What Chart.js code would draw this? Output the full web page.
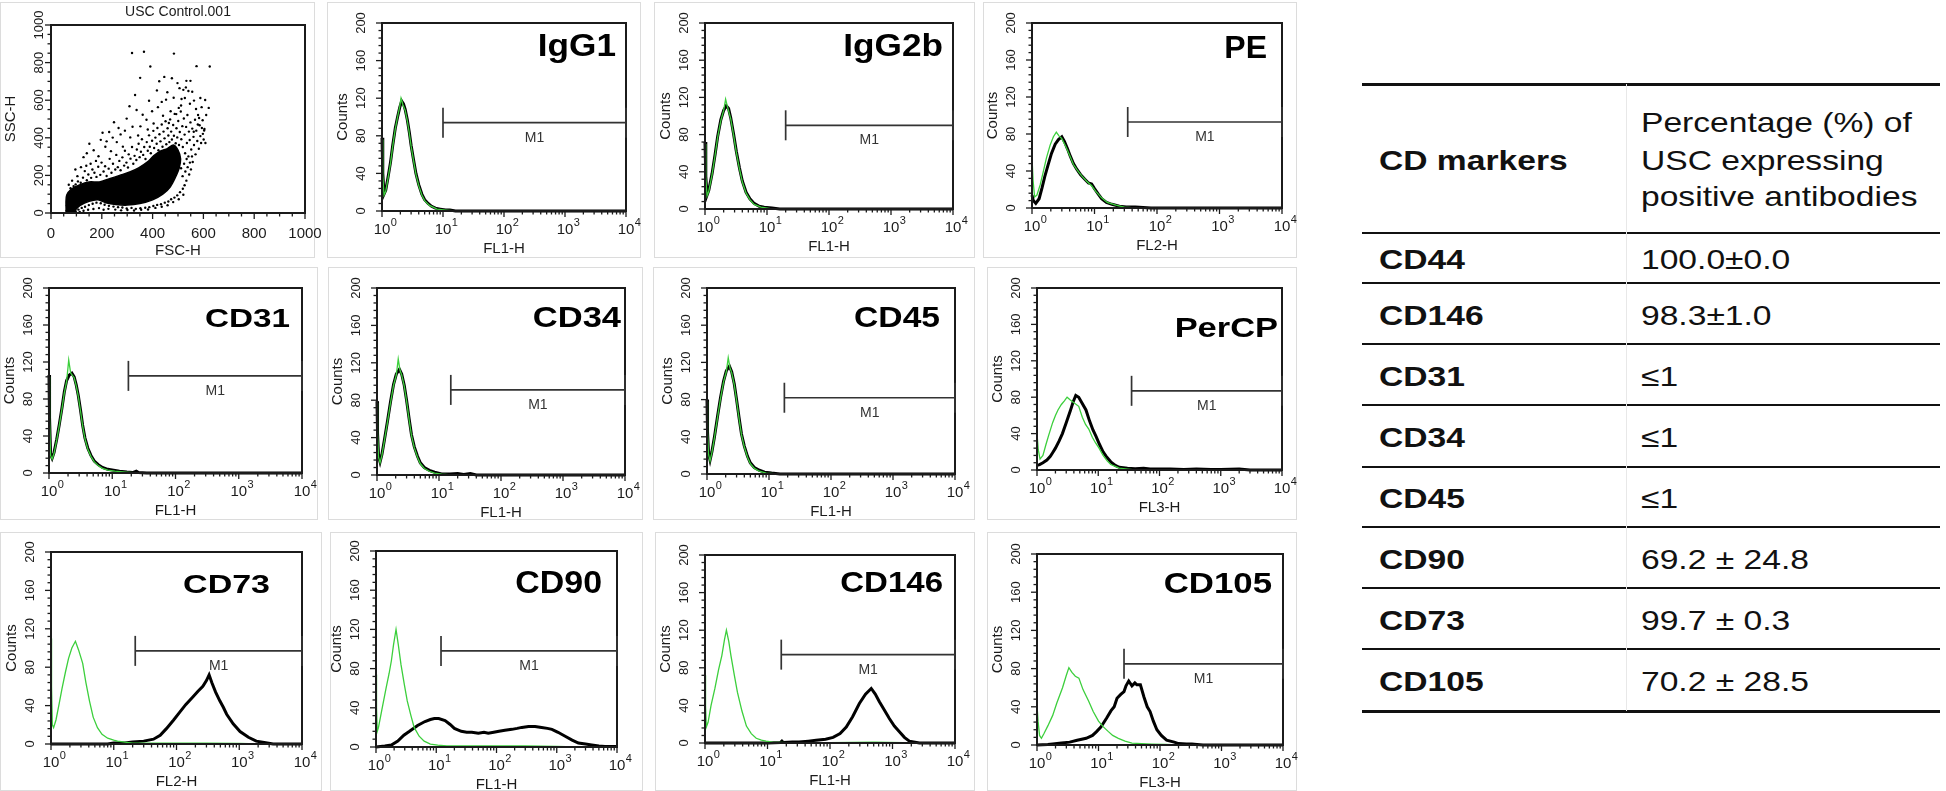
<!DOCTYPE html>
<html>
<head>
<meta charset="utf-8">
<script src="https://cdn.jsdelivr.net/npm/chart.js@4.4.0/dist/chart.umd.min.js"></script>
<style>
  body { margin: 0; width: 1946px; height: 791px; background: #fff; position: relative; overflow: hidden;
         font-family: "Liberation Sans", Arial, sans-serif; color: #111; }
  .frame { position: absolute; border: 1px solid #dcdcdc; box-sizing: border-box; }
  canvas { position: absolute; }
  .rule { position: absolute; background: #111; }
  .cell { position: absolute; white-space: nowrap; height: 40px; line-height: 40px; font-size: 28px;
          transform: scaleX(1.2); transform-origin: 0 50%; }
</style>
</head>
<body>
<script>
// ---- axis ticks ----
const logMajor = [1, 10, 100, 1000, 10000];
const logMinor = [2, 3, 4, 5, 6, 7, 8, 9, 20, 30, 40, 50, 60, 70, 80, 90, 200, 300, 400, 500, 600, 700, 800, 900,
  2000, 3000, 4000, 5000, 6000, 7000, 8000, 9000];
const countMajor = [0, 40, 80, 120, 160, 200];
const countMinor = [8, 16, 24, 32, 48, 56, 64, 72, 88, 96, 104, 112, 128, 136, 144, 152, 168, 176, 184, 192];
const linMajor = [0, 200, 400, 600, 800, 1000];
const linMinor = [50, 100, 150, 250, 300, 350, 450, 500, 550, 650, 700, 750, 850, 900, 950];

// ---- scatter (FSC-H vs SSC-H) ----
const scatterCore = [[60, 0], [59, 60], [62, 95], [78, 125], [110, 148], [150, 165], [190, 165], [230, 182], [270, 200],
  [310, 218], [345, 240], [380, 272], [405, 305], [432, 330], [458, 342], [482, 362], [500, 335], [510, 290], [505, 240],
  [490, 190], [470, 140], [440, 100], [400, 70], [350, 50], [300, 42], [255, 45], [215, 55], [185, 70], [150, 62],
  [115, 40], [95, 15], [88, 0]];
const scatterEvents = [
  [70, 150], [83, 172], [91, 133], [104, 196], [117, 161], [126, 188], [133, 223], [141, 174], [147, 205], [158, 187],
  [163, 231], [171, 214], [179, 192], [186, 246], [194, 203], [199, 268], [207, 221], [213, 249], [219, 197], [227, 236],
  [231, 288], [238, 214], [244, 262], [253, 231], [257, 309], [263, 244], [269, 277], [274, 227], [281, 296], [288, 252],
  [291, 331], [297, 268], [303, 242], [306, 312], [313, 289], [319, 351], [324, 262], [329, 304], [336, 282], [338, 338],
  [345, 368], [349, 297], [354, 326], [358, 392], [363, 309], [367, 351], [372, 287], [377, 377], [381, 331], [386, 413],
  [389, 352], [393, 318], [398, 384], [403, 437], [406, 346], [411, 401], [416, 368], [419, 452], [423, 334], [427, 419],
  [431, 381], [436, 471], [439, 352], [443, 433], [447, 397], [451, 488], [454, 366], [459, 451], [462, 412], [466, 377],
  [469, 498], [473, 433], [476, 391], [481, 468], [484, 411], [487, 527], [491, 371], [494, 451], [497, 402], [501, 489],
  [504, 362], [507, 431], [511, 540], [513, 392], [517, 462], [519, 351], [523, 503], [526, 417], [528, 318], [532, 458],
  [535, 372], [537, 521], [541, 301], [543, 433], [546, 388], [549, 482], [552, 338], [556, 449], [558, 271], [561, 405],
  [563, 362], [567, 496], [569, 312], [572, 438], [576, 383], [579, 521], [582, 342], [585, 467], [588, 409], [591, 372],
  [594, 452], [598, 421], [601, 391], [604, 447], [608, 372],
  [512, 238], [518, 196], [524, 262], [529, 221], [534, 287], [538, 244], [544, 205], [547, 268], [551, 232], [555, 301],
  [533, 172], [526, 148], [519, 129], [508, 111], [497, 94], [486, 82], [473, 73], [462, 61], [448, 55], [433, 47],
  [418, 43], [403, 37], [387, 31], [371, 28], [352, 25], [334, 22], [317, 27], [298, 24], [281, 29], [264, 31], [246, 34],
  [228, 38], [211, 44], [196, 52], [179, 55], [164, 49], [149, 42], [134, 33], [121, 27], [108, 18], [97, 9], [113, 6],
  [128, 12], [146, 17], [167, 21], [189, 26], [207, 17], [226, 22], [253, 18], [276, 14], [301, 16], [327, 13], [355, 17],
  [382, 19], [411, 27], [436, 33], [459, 41], [481, 58], [503, 73], [521, 97],
  [61, 12], [63, 41], [65, 27], [67, 66], [69, 88], [71, 49], [73, 104], [74, 21], [77, 132], [79, 77], [84, 118],
  [86, 94], [89, 143], [93, 61], [97, 152], [101, 108], [106, 168], [112, 131],
  [96, 231], [128, 297], [151, 368], [168, 334], [187, 302], [203, 427], [219, 381], [236, 329], [248, 483], [259, 377],
  [274, 418], [283, 353], [298, 502], [321, 459], [331, 628], [343, 412], [351, 719], [361, 523], [366, 858], [381, 444],
  [386, 597], [391, 779], [404, 476], [421, 563], [426, 701], [441, 517], [446, 724], [453, 603], [464, 479], [471, 541],
  [476, 717], [483, 613], [484, 848], [493, 526], [503, 559], [506, 664], [514, 606], [521, 655], [531, 668], [541, 649],
  [549, 703], [563, 598], [571, 553], [573, 781], [583, 505], [593, 563], [603, 439], [621, 559], [625, 779], [319, 851],
  [533, 703], [562, 432], [578, 471], [597, 493], [611, 521], [588, 612], [547, 581], [527, 612], [512, 572], [458, 642],
  [436, 591], [398, 541], [376, 496], [352, 461], [337, 548], [312, 402], [291, 438], [266, 452], [243, 401], [214, 352],
  [196, 389], [177, 277], [156, 262], [139, 251], [118, 244], [141, 318], [229, 431], [309, 568], [417, 652], [498, 691],
  [556, 645], [607, 601]];

// ---- histograms: [channel, counts] ----
const igg1Sample = [[1, 78], [1.03, 40], [1.08, 18], [1.15, 22], [1.25, 35], [1.38, 52], [1.5, 70], [1.65, 88], [1.8, 100],
  [1.95, 110], [2.1, 117], [2.25, 114], [2.4, 108], [2.6, 97], [2.8, 84], [3, 70], [3.3, 54], [3.6, 40], [4, 28], [4.5, 18],
  [5, 12], [5.7, 8], [6.5, 5], [7.5, 3], [9, 2], [11, 1], [13, 1], [16, 0], [10000, 0]];
const igg1Control = [[1, 76], [1.03, 38], [1.08, 17], [1.15, 21], [1.25, 34], [1.38, 51], [1.5, 69], [1.65, 87], [1.8, 100],
  [1.95, 111], [2.05, 120], [2.2, 113], [2.4, 107], [2.6, 96], [2.8, 83], [3, 69], [3.3, 53], [3.6, 39], [4, 27], [4.5, 17],
  [5, 11], [6, 6], [8, 2], [11, 1], [16, 0], [10000, 0]];
const igg2bSample = [[1, 72], [1.03, 35], [1.08, 15], [1.15, 20], [1.3, 38], [1.45, 58], [1.6, 78], [1.8, 96], [2, 106],
  [2.2, 111], [2.4, 108], [2.6, 98], [2.9, 80], [3.2, 62], [3.6, 44], [4, 30], [4.6, 18], [5.3, 11], [6.2, 6], [7.5, 3],
  [9, 2], [12, 1], [16, 0], [10000, 0]];
const igg2bControl = [[1, 70], [1.03, 34], [1.08, 14], [1.15, 19], [1.3, 37], [1.45, 57], [1.6, 77], [1.8, 95], [2, 106],
  [2.15, 118], [2.3, 110], [2.6, 97], [2.9, 79], [3.2, 61], [3.6, 43], [4, 29], [4.6, 17], [5.3, 10], [6.2, 5], [8, 2],
  [12, 0], [10000, 0]];
const peSample = [[1, 14], [1.05, 8], [1.15, 5], [1.3, 10], [1.45, 22], [1.6, 34], [1.8, 46], [2.05, 59], [2.35, 69],
  [2.65, 74], [3, 77], [3.3, 72], [3.7, 64], [4.1, 56], [4.6, 48], [5.2, 42], [6, 36], [7, 31], [8, 27], [9, 26], [10, 21],
  [11.5, 15], [13, 10], [15.5, 6], [19, 4], [25, 2], [32, 1], [45, 1], [60, 0.5], [80, 0], [10000, 0]];
const peControl = [[1, 55], [1.04, 30], [1.1, 12], [1.2, 14], [1.35, 25], [1.5, 38], [1.7, 54], [1.95, 68], [2.2, 77],
  [2.45, 82], [2.7, 78], [3, 75], [3.5, 66], [4, 57], [4.6, 47], [5.3, 41], [6.2, 35], [7.5, 29], [9, 24], [10.5, 18],
  [13, 11], [16, 6], [22, 3], [30, 1], [45, 0], [10000, 0]];
const cd31Sample = [[1, 106], [1.02, 60], [1.06, 20], [1.12, 16], [1.2, 22], [1.32, 36], [1.45, 52], [1.6, 70], [1.75, 88],
  [1.9, 100], [2.1, 106], [2.3, 108], [2.5, 104], [2.7, 95], [2.9, 84], [3.15, 68], [3.4, 52], [3.7, 38], [4.1, 27],
  [4.6, 19], [5.2, 13], [6, 9], [7, 6], [8.5, 4], [10.5, 3], [13, 2], [17, 1], [21, 0.5], [24, 2], [26, 0.5], [35, 0],
  [10000, 0]];
const cd31Control = [[1, 104], [1.02, 58], [1.06, 19], [1.12, 15], [1.2, 21], [1.32, 35], [1.45, 51], [1.6, 69],
  [1.75, 87], [1.9, 99], [2.05, 122], [2.2, 108], [2.5, 103], [2.7, 94], [2.9, 83], [3.15, 67], [3.4, 51], [3.7, 37],
  [4.1, 26], [4.6, 18], [5.2, 12], [6, 8], [7, 5], [8.5, 3], [11, 2], [16, 1], [25, 0], [10000, 0]];
const cd34Sample = [[1, 79], [1.02, 45], [1.06, 20], [1.12, 14], [1.2, 22], [1.32, 38], [1.48, 58], [1.65, 78], [1.85, 97],
  [2.05, 108], [2.3, 113], [2.5, 108], [2.75, 96], [3, 80], [3.3, 60], [3.6, 43], [4, 30], [4.5, 20], [5, 13], [5.8, 8],
  [7, 5], [8.5, 3], [11, 1], [15, 1], [20, 1.5], [25, 0.5], [32, 1.5], [40, 0], [10000, 0]];
const cd34Control = [[1, 77], [1.02, 44], [1.06, 19], [1.12, 13], [1.2, 21], [1.32, 37], [1.48, 57], [1.65, 77],
  [1.85, 96], [2.05, 107], [2.2, 124], [2.35, 112], [2.5, 107], [2.75, 95], [3, 79], [3.3, 59], [3.6, 42], [4, 29],
  [4.5, 19], [5, 12], [5.8, 7], [7, 4], [8.5, 2], [11, 1], [16, 0], [10000, 0]];
const cd45Sample = [[1, 80], [1.02, 45], [1.06, 22], [1.12, 15], [1.2, 24], [1.32, 40], [1.48, 62], [1.65, 82], [1.85, 100],
  [2.05, 111], [2.3, 116], [2.5, 110], [2.75, 97], [3, 80], [3.3, 60], [3.6, 43], [4, 30], [4.5, 19], [5, 12], [5.8, 7],
  [7, 4], [8.5, 2], [11, 1], [15, 0], [10000, 0]];
const cd45Control = [[1, 78], [1.02, 44], [1.06, 21], [1.12, 14], [1.2, 23], [1.32, 39], [1.48, 61], [1.65, 81],
  [1.85, 99], [2.05, 110], [2.2, 125], [2.35, 114], [2.5, 109], [2.75, 96], [3, 79], [3.3, 59], [3.6, 42], [4, 29],
  [4.5, 18], [5, 11], [5.8, 6], [7, 3], [9, 1], [14, 0], [10000, 0]];
const percpSample = [[1, 5], [1.1, 6], [1.25, 8], [1.45, 11], [1.65, 15], [1.8, 19], [2, 24], [2.3, 32], [2.6, 40], [3, 52],
  [3.5, 65], [3.9, 75], [4.3, 82], [4.8, 80], [5.4, 74], [6.3, 66], [7.2, 54], [8.2, 44], [9.2, 37], [10.5, 28], [12, 20],
  [13.5, 15], [16, 9], [19, 5], [22, 3], [30, 2], [40, 1.5], [55, 2], [70, 1], [100, 1], [150, 1], [250, 0.5], [400, 1],
  [700, 0.5], [1000, 0.5], [2000, 1], [3000, 0], [10000, 0]];
const percpControl = [[1, 40], [1.05, 22], [1.12, 12], [1.25, 16], [1.4, 28], [1.55, 38], [1.8, 52], [2, 60], [2.2, 66],
  [2.5, 72], [2.8, 76], [3.1, 80], [3.5, 77], [4, 74], [4.8, 70], [5.5, 58], [6.2, 50], [7, 45], [8, 36], [9, 30],
  [10.3, 24], [12, 16], [14, 10], [16, 6], [19, 4], [22, 2], [30, 1], [40, 0], [10000, 0]];
const cd73Sample = [[1, 0], [8, 0], [10, 1], [15, 1], [20, 2], [30, 3], [43, 5], [55, 9], [69, 16], [90, 25], [112, 33],
  [140, 41], [182, 49], [220, 55], [263, 60], [300, 66], [331, 72], [365, 64], [420, 54], [490, 45], [560, 38], [630, 31],
  [800, 21], [1030, 13], [1400, 7], [1870, 3], [2500, 1.5], [3460, 0], [10000, 0]];
const cd73Control = [[1, 110], [1.02, 60], [1.05, 20], [1.1, 17], [1.2, 25], [1.35, 42], [1.5, 58], [1.7, 75], [1.9, 89],
  [2.15, 100], [2.45, 107], [2.75, 98], [3.2, 84], [3.6, 64], [4.1, 45], [4.7, 28], [5.5, 17], [6.5, 10], [8, 6], [10, 4],
  [11.5, 3], [15, 2], [20, 1], [40, 1], [100, 1], [300, 1], [1000, 0.5], [2000, 0], [10000, 0]];
const cd90Sample = [[1, 0], [1.4, 1], [1.8, 2], [2.3, 6], [2.9, 12], [3.6, 16], [4.9, 22], [6.5, 26], [8, 28], [9.3, 29],
  [11, 29], [14, 27], [17, 23], [20, 19], [26, 16], [32, 15], [39, 15], [50, 14], [62, 15], [73, 14], [90, 15], [110, 16],
  [138, 17], [180, 18], [220, 19], [263, 20], [340, 21], [437, 21], [560, 20], [700, 19], [832, 18], [1050, 15],
  [1380, 11], [1800, 7], [2290, 4], [3000, 3], [3800, 2], [5000, 1], [6300, 0.5], [10000, 0.5]];
const cd90Control = [[1, 74], [1.02, 40], [1.05, 16], [1.1, 20], [1.25, 38], [1.47, 60], [1.65, 75], [1.8, 88], [1.95, 104],
  [2.15, 120], [2.35, 104], [2.6, 84], [2.95, 64], [3.3, 47], [3.8, 32], [4.3, 20], [5.2, 11], [6.3, 6], [8, 3], [10.6, 2],
  [15, 1], [30, 1], [100, 1], [300, 1], [1000, 0.5], [2000, 0], [10000, 0]];
const cd146Sample = [[1, 0], [10, 0], [16, 0.5], [17, 2], [18, 0.5], [25, 1], [32, 1], [45, 2], [60, 3], [85, 4], [112, 6],
  [145, 10], [182, 17], [230, 28], [295, 42], [370, 52], [457, 58], [530, 52], [617, 44], [740, 35], [890, 26], [1070, 18],
  [1290, 12], [1550, 6], [1860, 2], [2690, 0], [10000, 0]];
const cd146Control = [[1, 72], [1.02, 40], [1.05, 17], [1.12, 22], [1.25, 40], [1.44, 58], [1.65, 78], [1.86, 93],
  [2.05, 110], [2.2, 120], [2.4, 108], [2.6, 93], [2.95, 72], [3.3, 54], [3.9, 34], [4.6, 18], [5.5, 10], [6.6, 5], [8, 3],
  [9.5, 2], [12, 1], [20, 0.5], [100, 0.5], [500, 1], [1500, 0.5], [2500, 0], [10000, 0]];
const cd105Sample = [[1, 0], [1.5, 0.5], [1.8, 1], [2.5, 2], [3.4, 3], [4.5, 5], [6.3, 7], [8, 10], [9.3, 14], [11, 19],
  [13.5, 28], [16, 36], [18, 40], [20, 49], [23, 53], [26, 56], [28, 62], [31, 67], [35, 62], [39, 65], [42, 63], [48, 63],
  [55, 50], [62, 40], [69, 35], [78, 25], [89, 16], [105, 10], [128, 5], [170, 3], [200, 1.5], [270, 1], [330, 1],
  [400, 0.5], [500, 0], [10000, 0]];
const cd105Control = [[1, 42], [1.04, 25], [1.1, 10], [1.18, 7], [1.3, 12], [1.5, 20], [1.8, 31], [2.1, 44], [2.6, 60],
  [3, 73], [3.3, 81], [3.7, 76], [4.2, 72], [4.8, 70], [5.6, 58], [6.9, 46], [8.2, 35], [10, 25], [12, 19], [14.5, 14],
  [17, 10], [21, 7], [27, 4], [35, 2], [50, 1.5], [74, 1], [120, 0.5], [200, 0], [10000, 0]];

const histNames = ["IgG1", "IgG2b", "PE", "CD31", "CD34", "CD45", "PerCP", "CD73", "CD90", "CD146", "CD105"];
const histChannels = ["FL1-H", "FL1-H", "FL2-H", "FL1-H", "FL1-H", "FL1-H", "FL3-H", "FL2-H", "FL1-H", "FL1-H", "FL3-H"];
const histSample = [igg1Sample, igg2bSample, peSample, cd31Sample, cd34Sample, cd45Sample, percpSample, cd73Sample,
  cd90Sample, cd146Sample, cd105Sample];
const histControl = [igg1Control, igg2bControl, peControl, cd31Control, cd34Control, cd45Control, percpControl,
  cd73Control, cd90Control, cd146Control, cd105Control];
const m1Start = [10, 20, 34, 18, 15.5, 17.7, 35, 22, 12, 16.6, 26];
const m1Level = [94, 90, 93, 105, 91, 82, 87, 97, 98, 94, 85];

// ---- table ----
const tableHeader = ["CD markers", "Percentage (%) of", "USC expressing", "positive antibodies"];
const markerNames = ["CD44", "CD146", "CD31", "CD34", "CD45", "CD90", "CD73", "CD105"];
const markerPercent = ["100.0±0.0", "98.3±1.0", "≤1", "≤1", "≤1", "69.2 ± 24.8", "99.7 ± 0.3", "70.2 ± 28.5"];

// ---- layout (page pixels) ----
const plotBoxes = [
  { l: 51, t: 25, r: 305, b: 213 },
  { l: 382, t: 23, r: 626, b: 211 }, { l: 705, t: 23, r: 953, b: 209 }, { l: 1032, t: 23, r: 1282, b: 208 },
  { l: 49, t: 288, r: 302, b: 473 }, { l: 377, t: 288, r: 625, b: 475 }, { l: 707, t: 288, r: 955, b: 474 },
  { l: 1037, t: 288, r: 1282, b: 470 },
  { l: 51, t: 552, r: 302, b: 744 }, { l: 376, t: 551, r: 617, b: 747 }, { l: 705, t: 555, r: 955, b: 743 },
  { l: 1037, t: 554, r: 1283, b: 745 },
];
// name label: font size, horizontal stretch, inset from right, baseline below top
const nameStyles = [
  [32, 1.1, 10, 33], [32, 1.1, 10, 33], [32, 1.0, 15, 35],
  [25, 1.33, 12, 39], [30, 1.15, 4, 39], [30, 1.12, 15, 39], [28, 1.23, 4, 49],
  [25, 1.36, 32, 41], [32, 1.06, 15, 42], [30, 1.1, 12, 37], [30, 1.16, 11, 39],
];
const panelFrames = [
  [0, 2, 315, 258], [327, 2, 641, 258], [654, 2, 975, 258], [983, 2, 1297, 258],
  [0, 267, 318, 520], [328, 267, 643, 520], [653, 267, 975, 520], [987, 267, 1297, 520],
  [0, 532, 322, 791], [330, 532, 643, 791], [655, 532, 975, 791], [987, 532, 1297, 791],
];
const tableRules = [84, 233, 283, 344, 405, 467, 527, 588, 649, 711];

const FONT = '"Liberation Sans", Arial, sans-serif';
const INK = "#1b1b1b";
const PAD = { left: 60, top: 26, right: 26, bottom: 50 };

const stretchText = (ctx, text, x, y, font, align, sx) => {
  ctx.save();
  ctx.font = font;
  ctx.textAlign = align;
  ctx.translate(x, y);
  ctx.scale(sx, 1);
  ctx.fillText(text, 0, 0);
  ctx.restore();
};

// frame, ticks, labels, M1 marker and panel name, all placed through the chart scales
const facsDecor = {
  id: "facsDecor",
  afterDatasetsDraw(chart, args, o) {
    const { ctx, chartArea: a } = chart;
    const sx = chart.scales.x;
    const sy = chart.scales.y;
    const seg = (x1, y1, x2, y2) => { ctx.beginPath(); ctx.moveTo(x1, y1); ctx.lineTo(x2, y2); ctx.stroke(); };
    ctx.save();
    ctx.strokeStyle = INK;
    ctx.fillStyle = INK;
    ctx.lineWidth = 2;
    ctx.strokeRect(a.left, a.top, a.right - a.left, a.bottom - a.top);

    ctx.lineWidth = 1.3;
    o.xMajor.forEach((v) => { const p = sx.getPixelForValue(v); seg(p, a.bottom, p, a.bottom + 6); });
    o.xMinor.forEach((v) => { const p = sx.getPixelForValue(v); seg(p, a.bottom, p, a.bottom + 3.5); });
    o.yMajor.forEach((v) => { const p = sy.getPixelForValue(v); seg(a.left, p, a.left - 6, p); });
    o.yMinor.forEach((v) => { const p = sy.getPixelForValue(v); seg(a.left, p, a.left - 3.5, p); });

    // rotated y tick labels and y title
    ctx.textBaseline = "middle";
    ctx.textAlign = "center";
    ctx.font = o.yFont;
    o.yMajor.forEach((v) => {
      const p = sy.getPixelForValue(v);
      ctx.save();
      ctx.translate(a.left - o.yLabelGap, p);
      ctx.rotate(-Math.PI / 2);
      ctx.fillText(String(v), 0, 0);
      ctx.restore();
    });
    ctx.save();
    ctx.font = o.titleFont;
    ctx.translate(a.left - o.yTitleGap, (a.top + a.bottom) / 2);
    ctx.rotate(-Math.PI / 2);
    ctx.fillText(o.yTitle, 0, 0);
    ctx.restore();

    // x tick labels
    ctx.textBaseline = "alphabetic";
    if (o.log) {
      o.xMajor.forEach((v, k) => {
        const p = sx.getPixelForValue(v);
        ctx.font = `15px ${FONT}`;
        ctx.textAlign = "center";
        ctx.fillText("10", p, a.bottom + 23);
        const w = ctx.measureText("10").width;
        ctx.font = `11px ${FONT}`;
        ctx.textAlign = "left";
        ctx.fillText(String(k), p + w / 2 + 0.5, a.bottom + 15);
      });
    } else {
      ctx.font = `15px ${FONT}`;
      ctx.textAlign = "center";
      o.xMajor.forEach((v) => ctx.fillText(String(v), sx.getPixelForValue(v), a.bottom + 25));
    }
    ctx.font = o.titleFont;
    ctx.textAlign = "center";
    ctx.fillText(o.xTitle, (a.left + a.right) / 2, a.bottom + 42);

    if (o.topTitle) {
      ctx.font = `14px ${FONT}`;
      ctx.fillText(o.topTitle, (a.left + a.right) / 2, a.top - 9);
    }

    if (o.m1 !== undefined) {
      const x1 = sx.getPixelForValue(o.m1);
      const x2 = sx.getPixelForValue(10000);
      const yy = sy.getPixelForValue(o.m1Level);
      ctx.strokeStyle = "#333";
      ctx.fillStyle = "#333";
      ctx.lineWidth = 1.7;
      seg(x1, yy, x2, yy);
      seg(x1, yy - 15, x1, yy + 15);
      seg(x2, yy - 15, x2, yy + 15);
      ctx.font = `14px ${FONT}`;
      ctx.textAlign = "center";
      ctx.fillText("M1", (x1 + x2) / 2, yy + 19);

      const [size, stretch, inset, base] = o.nameStyle;
      ctx.fillStyle = "#000";
      stretchText(ctx, o.name, a.right - inset, a.top + base, `bold ${size}px ${FONT}`, "right", stretch);
    }
    ctx.restore();
  },
};

const makeCanvas = (box) => {
  const c = document.createElement("canvas");
  const w = box.r - box.l + PAD.left + PAD.right;
  const h = box.b - box.t + PAD.top + PAD.bottom;
  c.width = w;
  c.height = h;
  c.style.left = box.l - PAD.left + "px";
  c.style.top = box.t - PAD.top + "px";
  c.style.width = w + "px";
  c.style.height = h + "px";
  document.body.appendChild(c);
  return c;
};

const baseOptions = (xScale, yScale, decor) => ({
  responsive: false,
  animation: false,
  events: [],
  layout: { padding: PAD },
  scales: { x: { ...xScale, display: false }, y: { ...yScale, display: false } },
  plugins: { legend: { display: false }, tooltip: { enabled: false }, facsDecor: decor },
});

panelFrames.forEach(([l, t, r, b]) => {
  const d = document.createElement("div");
  d.className = "frame";
  Object.assign(d.style, { left: l + "px", top: t + "px", width: r - l + "px", height: b - t + "px" });
  document.body.appendChild(d);
});

// scatter panel
new Chart(makeCanvas(plotBoxes[0]), {
  type: "line",
  data: {
    datasets: [
      { data: scatterCore, fill: "shape", backgroundColor: "#000", borderColor: "#000", borderWidth: 1.5, pointRadius: 0, tension: 0.3 },
      { data: scatterEvents, showLine: false, pointRadius: 1.2, pointBorderWidth: 0, pointBackgroundColor: "#000" },
    ],
  },
  options: baseOptions(
    { type: "linear", min: 0, max: 1000 },
    { type: "linear", min: 0, max: 1000 },
    { xMajor: linMajor, xMinor: linMinor, yMajor: linMajor, yMinor: linMinor, log: false,
      yFont: `13px ${FONT}`, yLabelGap: 12, yTitleGap: 40, titleFont: `15px ${FONT}`,
      xTitle: "FSC-H", yTitle: "SSC-H", topTitle: "USC Control.001" }
  ),
  plugins: [facsDecor],
});

// histogram panels
histNames.forEach((name, i) => {
  new Chart(makeCanvas(plotBoxes[i + 1]), {
    type: "line",
    data: {
      datasets: [
        { data: histControl[i], borderColor: "#3ccf3c", borderWidth: 1.3, pointRadius: 0, tension: 0, clip: 3 },
        { data: histSample[i], borderColor: "#000", borderWidth: 3, pointRadius: 0, tension: 0, clip: 3 },
      ],
    },
    options: baseOptions(
      { type: "logarithmic", min: 1, max: 10000 },
      { type: "linear", min: 0, max: 200 },
      { xMajor: logMajor, xMinor: logMinor, yMajor: countMajor, yMinor: countMinor, log: true,
        yFont: `13px ${FONT}`, yLabelGap: 21, yTitleGap: 39, titleFont: `15px ${FONT}`,
        xTitle: histChannels[i], yTitle: "Counts",
        m1: m1Start[i], m1Level: m1Level[i], name, nameStyle: nameStyles[i] }
    ),
    plugins: [facsDecor],
  });
});

// table
const TL = 1362, TR = 1940, COL1 = 1379, COL2 = 1641;
const addRule = (y, thick) => {
  const d = document.createElement("div");
  d.className = "rule";
  Object.assign(d.style, { left: TL + "px", top: y - thick / 2 + "px", width: TR - TL + "px", height: thick + "px" });
  document.body.appendChild(d);
};
const addCell = (text, x, yc, bold) => {
  const d = document.createElement("div");
  d.className = "cell";
  d.textContent = text;
  Object.assign(d.style, { left: x + "px", top: yc - 20 + "px", fontWeight: bold ? "bold" : "normal" });
  document.body.appendChild(d);
};
tableRules.forEach((y, k) => addRule(y, k === 0 || k === tableRules.length - 1 ? 3 : 2.5));
const divider = document.createElement("div");
Object.assign(divider.style, { position: "absolute", left: "1626px", top: tableRules[0] + "px", width: "1px",
  height: tableRules[tableRules.length - 1] - tableRules[0] + "px", background: "#e8e8e8" });
document.body.appendChild(divider);

addCell(tableHeader[0], COL1, (tableRules[0] + tableRules[1]) / 2 + 2, true);
[123, 161, 197].forEach((yc, k) => addCell(tableHeader[k + 1], COL2, yc, false));
markerNames.forEach((m, k) => {
  const yc = (tableRules[k + 1] + tableRules[k + 2]) / 2 + 2;
  addCell(m, COL1, yc, true);
  addCell(markerPercent[k], COL2, yc, false);
});
</script>
</body>
</html>
